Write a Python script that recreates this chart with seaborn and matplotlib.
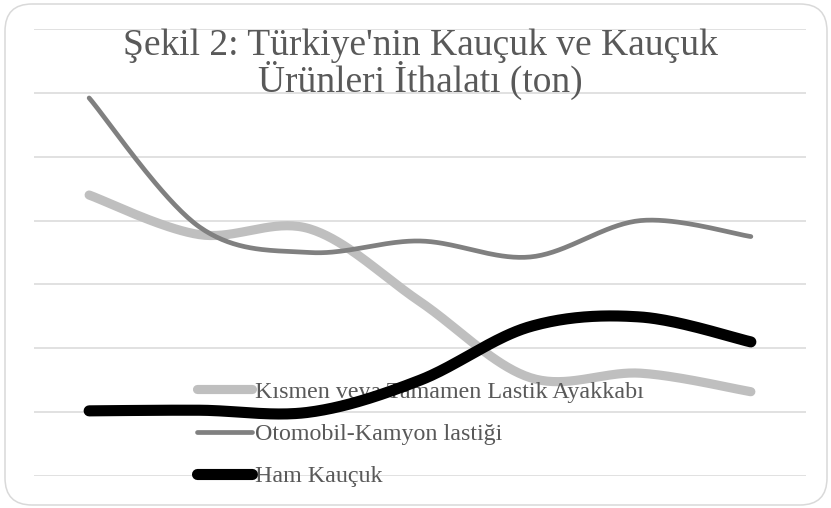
import numpy as np
import pandas as pd
import matplotlib
matplotlib.use("Agg")
import matplotlib.pyplot as plt
from matplotlib.patches import FancyBboxPatch
from matplotlib.transforms import IdentityTransform
import seaborn as sns

# ---- data (tons) ----
years = ["2010", "2011", "2012", "2013", "2014", "2015", "2016"]
ayakkabi = [220000, 189000, 193500, 136500, 77000, 80500, 66000]   # Kısmen veya Tamamen Lastik Ayakkabı
lastik = [296000, 195000, 175000, 184000, 171500, 200000, 187500]  # Otomobil-Kamyon lastiği
ham = [51000, 51500, 50000, 75000, 117000, 124500, 105000]         # Ham Kauçuk
series_names = ["Kısmen veya Tamamen Lastik Ayakkabı", "Otomobil-Kamyon lastiği", "Ham Kauçuk"]
title_lines = ["Şekil 2: Türkiye'nin Kauçuk ve Kauçuk", "Ürünleri İthalatı (ton)"]
y_max = 350000
y_step = 50000

sns.set_theme(style="white")
plt.rcParams["font.family"] = ["Liberation Serif", "DejaVu Serif"]


def smooth(xv, yv, n=40):
    """Excel-like smoothed line (Catmull-Rom through the data points)."""
    p = np.column_stack([xv, yv]).astype(float)
    p = np.vstack([p[0], p, p[-1]])
    out = []
    t = np.linspace(0, 1, n)
    for i in range(1, len(p) - 2):
        p0, p1, p2, p3 = p[i - 1], p[i], p[i + 1], p[i + 2]
        c1 = p1 + (p2 - p0) / 6.0
        c2 = p2 - (p3 - p1) / 6.0
        seg = ((1 - t) ** 3)[:, None] * p1 + (3 * (1 - t) ** 2 * t)[:, None] * c1 \
            + (3 * (1 - t) * t ** 2)[:, None] * c2 + (t ** 3)[:, None] * p2
        out.append(seg if i == 1 else seg[1:])
    s = np.vstack(out)
    return s[:, 0], s[:, 1]


W, H = 831, 508
fig = plt.figure(figsize=(W / 100, H / 100), dpi=100)
fig.patch.set_facecolor("white")

ax = fig.add_axes([34 / W, (H - 476) / H, 772 / W, 447 / H])
ax.set_facecolor("none")

xpos = np.arange(len(years))
styles = [
    (ayakkabi, "#BFBFBF", 6.6, 2.0),
    (lastik, "#808080", 3.4, 3.0),
    (ham, "#000000", 8.0, 4.0),
]
handles = []
for (vals, col, lw, z), name in zip(styles, series_names):
    sx, sy = smooth(xpos, vals)
    df = pd.DataFrame({"x": sx, "y": sy})
    sns.lineplot(data=df, x="x", y="y", ax=ax, sort=False, estimator=None,
                 color=col, linewidth=lw, zorder=z, label=name)
    ln = ax.lines[-1]
    ln.set_solid_capstyle("round")
    handles.append(ln)

ax.set_xlim(-0.5, len(years) - 0.5)
ax.set_ylim(0, y_max)
ax.set_yticks(np.arange(0, y_max + 1, y_step))
ax.set_xticks([])
ax.tick_params(left=False, bottom=False, labelleft=False, labelbottom=False)
ax.set_xlabel("")
ax.set_ylabel("")
ax.grid(axis="y", color="#D9D9D9", linewidth=1.1)
ax.grid(axis="x", visible=False)
for s in ax.spines.values():
    s.set_visible(False)

leg = ax.legend(handles=handles, labels=series_names, loc="center left",
                bbox_to_anchor=(197 / W, (H - 434) / H), bbox_transform=fig.transFigure,
                frameon=False, fontsize=17.3, handlelength=2.3, handletextpad=0.1,
                labelspacing=0.84, borderpad=0, borderaxespad=0)
leg.set_zorder(2.5)
for t in leg.get_texts():
    t.set_color("#595959")
for lh in leg.get_lines():
    lh.set_solid_capstyle("round")

fig.text(420 / W, (H - 55) / H, title_lines[0], ha="center", va="baseline",
         fontsize=27, color="#595959")
fig.text(420 / W, (H - 92) / H, title_lines[1], ha="center", va="baseline",
         fontsize=27, color="#595959")

border = FancyBboxPatch((5, 3), 822, 501, boxstyle="round,pad=0,rounding_size=27",
                        transform=IdentityTransform(), facecolor="none",
                        edgecolor="#D9D9D9", linewidth=1.1)
fig.patches.append(border)

fig.savefig("out.png", dpi=100)
